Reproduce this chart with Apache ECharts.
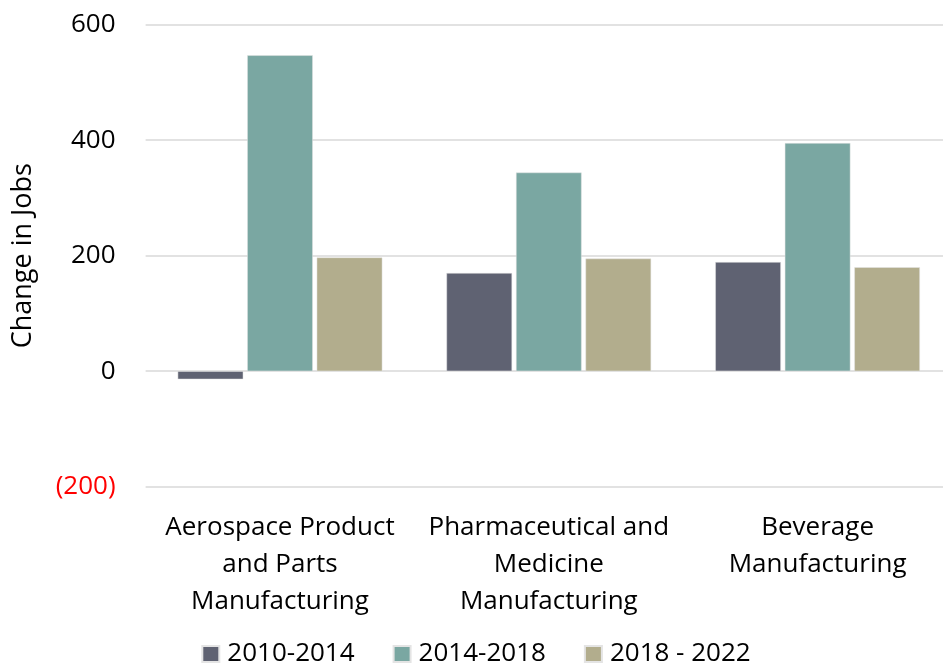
<!DOCTYPE html>
<html>
<head>
<meta charset="utf-8">
<script src="https://cdn.jsdelivr.net/npm/echarts@6/dist/echarts.min.js"></script>
<style>html,body{margin:0;padding:0;background:#fff;overflow:hidden}#c{width:952px;height:666px}</style>
</head>
<body>
<div id="c"></div>
<script>
var categories = ["Aerospace Product\nand Parts\nManufacturing", "Pharmaceutical and\nMedicine\nManufacturing", "Beverage\nManufacturing"];
var seriesNames = ["2010-2014", "2014-2018", "2018 - 2022"];
var s2010_2014 = [-14, 170, 189];
var s2014_2018 = [547, 344, 395];
var s2018_2022 = [197, 195, 180];
var yTicks = { min: -200, max: 600, interval: 200 };
var colors = ["#5f6272", "#7aa7a2", "#b2ad8d"];
var FONT = "Open Sans";

var chart = echarts.init(document.getElementById('c'), null, {renderer: 'canvas'});
var data = [s2010_2014, s2014_2018, s2018_2022];
chart.setOption({
  animation: false,
  textStyle: { fontFamily: FONT },
  grid: { left: 145.6, right: 0, top: 24.7, bottom: 179.3 },
  legend: {
    data: seriesNames,
    bottom: -1,
    left: 'center',
    padding: 0,
    itemWidth: 17, itemHeight: 16, itemGap: 38,
    icon: 'rect',
    textStyle: { fontSize: 26, color: '#000', fontFamily: FONT, padding: [0, 0, 0, 3] }
  },
  xAxis: {
    type: 'category',
    data: categories,
    axisLine: { show: false, onZero: false },
    axisTick: { show: false },
    axisLabel: { fontSize: 26, color: '#000', lineHeight: 37, margin: 22, interval: 0, fontFamily: FONT }
  },
  yAxis: {
    type: 'value',
    min: yTicks.min, max: yTicks.max, interval: yTicks.interval,
    name: 'Change in Jobs',
    nameLocation: 'middle',
    nameGap: 109,
    nameRotate: 90,
    nameTextStyle: { fontSize: 27, color: '#000', fontFamily: FONT },
    axisLine: { show: false },
    axisTick: { show: false },
    splitLine: { lineStyle: { color: '#d9d9d9', width: 1.5 } },
    axisLabel: {
      fontSize: 26, margin: 30, fontFamily: FONT,
      formatter: function (v) { return v < 0 ? '{neg|(' + Math.abs(v) + ')}' : '{pos|' + v + '}'; },
      rich: { neg: { color: '#ff0000', fontSize: 26, fontFamily: FONT }, pos: { color: '#000', fontSize: 26, fontFamily: FONT } }
    }
  },
  series: seriesNames.map(function (n, i) {
    return {
      name: n, type: 'bar', data: data[i],
      barWidth: '24.4%', barGap: '6%',
      itemStyle: { color: colors[i], borderColor: '#e4e4e4', borderWidth: 0.5 }
    };
  })
});
</script>
</body>
</html>
